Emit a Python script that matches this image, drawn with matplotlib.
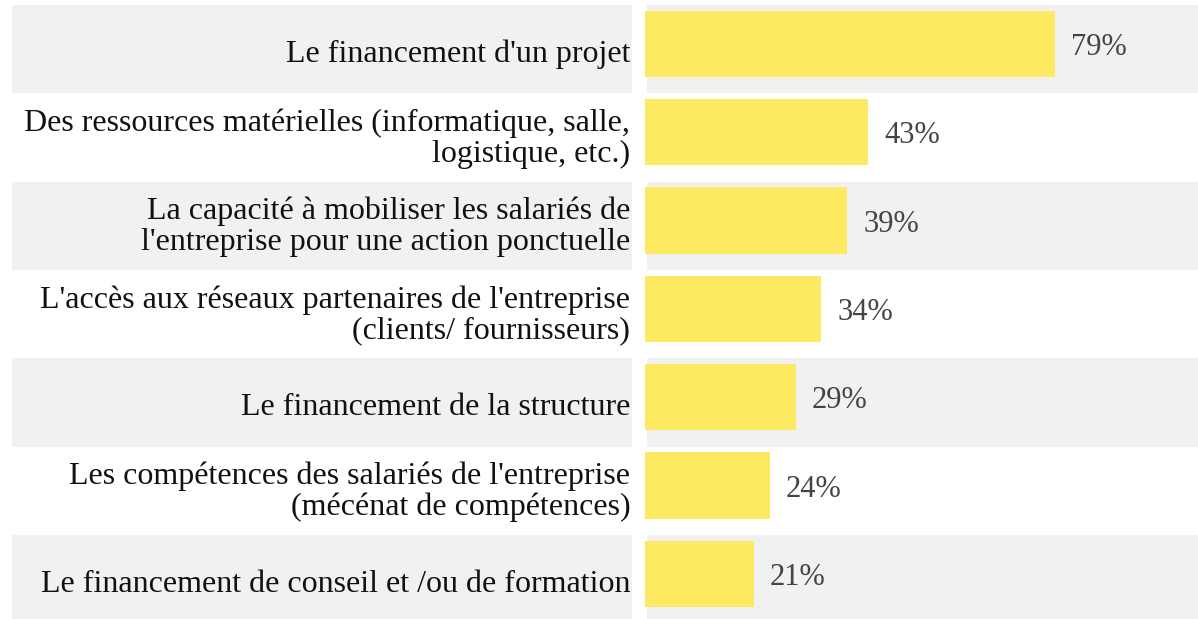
import matplotlib.pyplot as plt

labels = [
    "Le financement d'un projet",
    "Des ressources matérielles (informatique, salle,\nlogistique, etc.)",
    "La capacité à mobiliser les salariés de\nl'entreprise pour une action ponctuelle",
    "L'accès aux réseaux partenaires de l'entreprise\n(clients/ fournisseurs)",
    "Le financement de la structure",
    "Les compétences des salariés de l'entreprise\n(mécénat de compétences)",
    "Le financement de conseil et /ou de formation",
]
values = [79, 43, 39, 34, 29, 24, 21]

W, H = 1198, 619
stripe = "#f1f1f1"
bar_color = "#fde962"
plt.rcParams["font.family"] = ["Liberation Serif", "DejaVu Serif"]

fig = plt.figure(figsize=(W / 100, H / 100), dpi=100)

def px_axes(x0, x1, y0, y1):
    # axes placed in pixel coordinates (y from top)
    return fig.add_axes([x0 / W, 1 - y1 / H, (x1 - x0) / W, (y1 - y0) / H])

ylim = (6.51, -0.44)
pos = list(range(len(values)))

# label column
lax = px_axes(12, 632, 5, 619)
lax.set_xlim(0, 1)
lax.set_ylim(*ylim)
lax.axis("off")
for i, lab in zip(pos, labels):
    if i % 2 == 0:
        lax.axhspan(i - 0.44, i + 0.56, color=stripe, lw=0)
    # baseline of the last line
    dy = 0.335 if "\n" in lab else 0.2
    lax.text(0.997, i + dy, lab, ha="right", va="baseline", fontsize=23,
             color="#111111", linespacing=1.08)

# bar column
ax = px_axes(645, 1198, 5, 619)
ax.set_xlim(0, (1198 - 645) / 5.19)
ax.set_ylim(*ylim)
ax.axis("off")
for i in pos:
    if i % 2 == 0:
        ax.axhspan(i - 0.44, i + 0.56, xmin=2 / 553, color=stripe, lw=0)
ax.barh(pos, values, height=0.75, color=bar_color, zorder=2)
for i, v in zip(pos, values):
    ax.text(v + 3.1, i + 0.125, f"{v}%", ha="left", va="baseline", fontsize=22,
            color="#444444", zorder=3)

fig.savefig("out.png", dpi=100)
